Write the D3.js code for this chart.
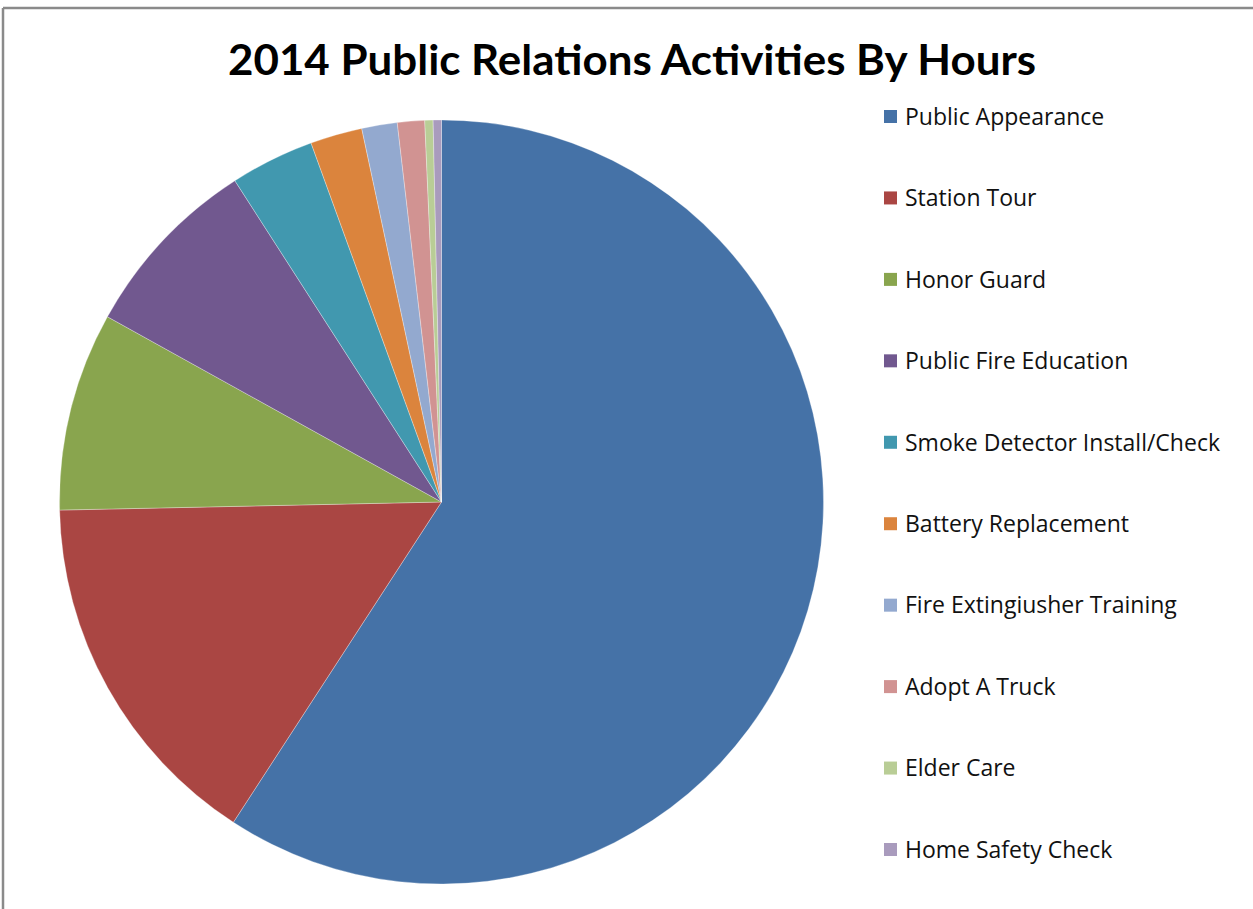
<!DOCTYPE html>
<html>
<head>
<meta charset="utf-8">
<script src="https://cdn.jsdelivr.net/npm/d3@7"></script>
<style>
  html, body { margin: 0; padding: 0; background: #fff; }
  svg { display: block; }
</style>
</head>
<body>
<svg id="chart" width="1253" height="909"></svg>
<script>
// Activity categories in drawing order (clockwise from 12 o'clock)
const categories = [
  "Public Appearance",
  "Station Tour",
  "Honor Guard",
  "Public Fire Education",
  "Smoke Detector Install/Check",
  "Battery Replacement",
  "Fire Extingiusher Training",
  "Adopt A Truck",
  "Elder Care",
  "Home Safety Check"
];

// Hours logged per activity
const hours = [1184, 310, 168, 157, 71, 44, 30, 23, 7, 7];

const colors = [
  "#4572A7", "#AA4643", "#89A54E", "#71588F", "#4198AF",
  "#DB843D", "#93A9CF", "#D19392", "#B9CD96", "#A99BBD"
];

const titleText = "2014 Public Relations Activities By Hours";

const svg = d3.select("#chart");

// chart frame (top and left edges)
svg.append("line").attr("x1", 3).attr("y1", 8).attr("x2", 1253).attr("y2", 8)
  .attr("stroke", "#8a8a8a").attr("stroke-width", 2.5);
svg.append("line").attr("x1", 3).attr("y1", 8).attr("x2", 3).attr("y2", 909)
  .attr("stroke", "#8a8a8a").attr("stroke-width", 2.5);

// title
svg.append("text")
  .attr("x", 632).attr("y", 75)
  .attr("text-anchor", "middle")
  .attr("font-family", "Lato, 'Open Sans', sans-serif")
  .attr("font-weight", "bold")
  .attr("font-size", 42)
  .attr("textLength", 808)
  .attr("lengthAdjust", "spacingAndGlyphs")
  .attr("fill", "#000")
  .text(titleText);

// pie
const data = categories.map((c, i) => ({ name: c, value: hours[i], color: colors[i] }));
const cx = 441.5, cy = 502, radius = 382;

const pie = d3.pie().value(d => d.value).sort(null);
const arc = d3.arc().innerRadius(0).outerRadius(radius);

const g = svg.append("g").attr("transform", `translate(${cx},${cy})`);
g.selectAll("path")
  .data(pie(data))
  .join("path")
  .attr("d", arc)
  .attr("fill", d => d.data.color)
  .attr("stroke", "#ffffff")
  .attr("stroke-width", 0.6)
  .attr("stroke-opacity", 0.5);

// legend
const legendY = d3.scalePoint().domain(categories).range([116.5, 849.5]);
const legend = svg.append("g");
const items = legend.selectAll("g")
  .data(data)
  .join("g")
  .attr("transform", d => `translate(884,${legendY(d.name)})`);

items.append("rect")
  .attr("x", 0).attr("y", -6.5)
  .attr("width", 13).attr("height", 13)
  .attr("fill", d => d.color);

items.append("text")
  .attr("x", 21).attr("y", 0)
  .attr("dy", "0.36em")
  .attr("font-family", "'Open Sans', Lato, sans-serif")
  .attr("font-size", 23)
  .attr("fill", "#111")
  .text(d => d.name);
</script>
</body>
</html>
